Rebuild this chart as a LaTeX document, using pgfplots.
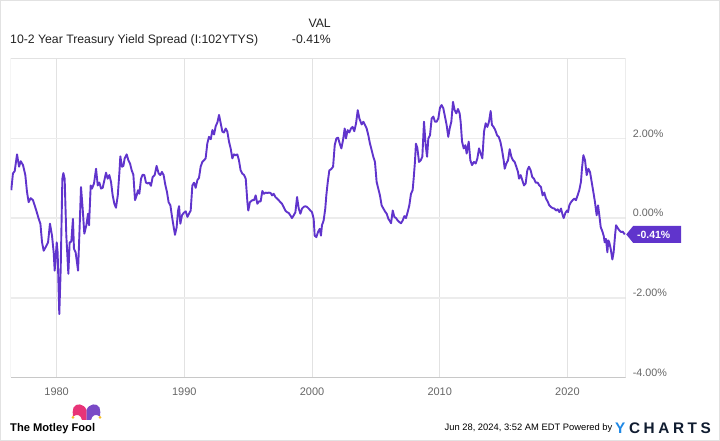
\documentclass[border=0pt]{standalone}
\usepackage{fontspec}
\setmainfont{Liberation Sans}
\usepackage{pgfplots}
\usepackage{pgfplotstable}
\pgfplotsset{compat=1.18}
\definecolor{ypurple}{RGB}{96,52,204}
\definecolor{gridv}{RGB}{226,226,226}
\definecolor{gridh}{RGB}{236,236,236}
\definecolor{ticktxt}{RGB}{102,102,102}
\definecolor{frameg}{RGB}{200,200,200}
\definecolor{hdrtxt}{RGB}{34,34,34}
\definecolor{ycblue}{RGB}{30,136,229}
\definecolor{ycdark}{RGB}{16,28,48}
\definecolor{foolpink}{RGB}{232,52,120}
\definecolor{foolpurple}{RGB}{122,74,198}
\definecolor{foolyellow}{RGB}{245,190,40}

\pgfplotstableread{
year val
1976.45 0.70
1976.58 1.12
1976.72 1.18
1976.90 1.60
1977.06 1.29
1977.19 1.43
1977.37 1.33
1977.55 1.08
1977.68 0.66
1977.81 0.40
1977.97 0.50
1978.15 0.45
1978.28 0.32
1978.41 0.19
1978.60 -0.02
1978.73 -0.14
1978.86 -0.61
1978.99 -0.82
1979.14 -0.73
1979.33 -0.61
1979.48 -0.14
1979.64 -0.44
1979.77 -0.86
1979.85 -1.32
1980.01 -0.61
1980.08 -0.86
1980.21 -2.41
1980.32 -1.28
1980.45 0.99
1980.53 1.13
1980.63 0.99
1980.76 -0.44
1980.92 -1.40
1981.02 -0.61
1981.15 -0.59
1981.28 -0.02
1981.36 -0.77
1981.49 -0.86
1981.68 -1.32
1981.78 -0.44
1981.91 0.78
1982.04 0.24
1982.17 -0.39
1982.33 -0.18
1982.46 0.11
1982.54 -0.18
1982.67 0.82
1982.77 0.74
1982.93 0.87
1983.09 1.24
1983.22 0.82
1983.35 0.89
1983.48 0.74
1983.61 0.76
1983.74 0.95
1983.87 1.14
1984.00 0.99
1984.13 1.08
1984.26 0.91
1984.39 0.57
1984.52 0.36
1984.65 0.26
1984.79 0.57
1984.92 1.16
1984.99 1.55
1985.12 1.29
1985.23 1.31
1985.33 1.50
1985.49 1.60
1985.62 1.45
1985.75 1.37
1985.88 1.20
1986.01 1.09
1986.14 0.45
1986.27 0.57
1986.37 0.70
1986.48 0.61
1986.61 0.99
1986.74 1.09
1986.87 1.08
1987.00 0.89
1987.13 0.87
1987.26 0.89
1987.39 0.81
1987.52 1.03
1987.68 1.08
1987.83 1.31
1987.99 1.12
1988.12 1.08
1988.25 1.16
1988.38 1.08
1988.51 0.84
1988.64 0.66
1988.77 0.40
1988.91 0.32
1989.04 0.03
1989.17 -0.23
1989.27 -0.42
1989.40 -0.23
1989.51 0.19
1989.59 0.30
1989.69 -0.14
1989.82 0.07
1989.95 0.13
1990.11 0.17
1990.24 0.03
1990.37 0.11
1990.50 0.19
1990.63 0.82
1990.76 0.89
1990.89 0.76
1991.02 0.95
1991.15 1.01
1991.28 1.29
1991.41 1.41
1991.54 1.45
1991.67 1.50
1991.80 1.87
1991.93 2.04
1992.07 1.98
1992.20 2.21
1992.33 2.10
1992.46 2.31
1992.59 2.40
1992.72 2.59
1992.85 2.38
1992.98 2.17
1993.11 2.15
1993.24 2.25
1993.37 2.17
1993.50 1.92
1993.63 1.75
1993.76 1.50
1993.89 1.60
1994.02 1.58
1994.15 1.60
1994.28 1.45
1994.41 1.20
1994.54 1.12
1994.68 1.08
1994.81 0.99
1994.94 0.40
1995.01 0.19
1995.14 0.40
1995.33 0.45
1995.46 0.45
1995.59 0.57
1995.72 0.36
1995.85 0.42
1995.98 0.42
1996.11 0.68
1996.24 0.61
1996.37 0.64
1996.50 0.63
1996.63 0.64
1996.76 0.63
1996.87 0.57
1997.00 0.61
1997.13 0.53
1997.26 0.49
1997.39 0.45
1997.52 0.40
1997.65 0.36
1997.78 0.28
1997.91 0.19
1998.04 0.15
1998.17 0.13
1998.30 0.07
1998.43 0.00
1998.57 0.07
1998.70 0.15
1998.83 0.53
1998.96 0.24
1999.09 0.11
1999.22 0.24
1999.35 0.28
1999.48 0.30
1999.61 0.28
1999.74 0.24
1999.87 0.19
2000.00 0.15
2000.13 -0.02
2000.21 -0.44
2000.34 -0.48
2000.47 -0.35
2000.60 -0.27
2000.70 -0.44
2000.78 -0.18
2000.91 -0.06
2001.04 0.24
2001.12 0.57
2001.25 0.95
2001.36 1.20
2001.51 1.23
2001.65 1.29
2001.78 1.83
2001.91 2.00
2002.04 2.02
2002.17 1.87
2002.30 1.75
2002.43 1.96
2002.56 2.25
2002.66 2.00
2002.79 2.21
2002.92 2.15
2003.05 2.25
2003.18 2.29
2003.31 2.18
2003.45 2.38
2003.58 2.71
2003.71 2.50
2003.89 2.35
2004.02 2.42
2004.15 2.34
2004.28 2.25
2004.41 2.08
2004.54 1.87
2004.67 1.71
2004.80 1.54
2004.93 1.41
2005.06 0.91
2005.19 0.74
2005.32 0.57
2005.45 0.32
2005.59 0.24
2005.71 0.17
2005.85 0.11
2005.98 -0.02
2006.11 -0.08
2006.19 -0.13
2006.32 0.19
2006.45 0.03
2006.58 0.00
2006.71 -0.06
2006.84 -0.10
2006.97 -0.13
2007.10 -0.06
2007.23 0.05
2007.36 0.00
2007.49 0.15
2007.62 0.32
2007.75 0.61
2007.88 0.70
2007.96 0.99
2008.06 1.41
2008.14 1.87
2008.25 1.76
2008.38 1.41
2008.51 1.45
2008.64 1.54
2008.77 2.42
2008.90 1.83
2009.01 1.54
2009.11 2.00
2009.24 2.08
2009.37 2.50
2009.50 2.55
2009.63 2.42
2009.76 2.42
2009.89 2.50
2010.02 2.77
2010.15 2.84
2010.28 2.76
2010.41 2.55
2010.54 2.34
2010.67 2.04
2010.78 2.25
2010.91 2.42
2011.04 2.92
2011.17 2.71
2011.30 2.63
2011.43 2.74
2011.56 2.63
2011.64 2.42
2011.75 1.92
2011.88 1.75
2012.01 1.83
2012.11 1.62
2012.27 1.92
2012.40 1.45
2012.53 1.33
2012.68 1.41
2012.82 1.37
2012.95 1.50
2013.08 1.75
2013.21 1.62
2013.34 1.50
2013.47 2.17
2013.60 2.38
2013.73 2.29
2013.86 2.42
2013.99 2.69
2014.09 2.34
2014.22 2.29
2014.35 2.21
2014.49 2.08
2014.62 2.04
2014.75 1.92
2014.88 1.71
2015.01 1.45
2015.09 1.24
2015.22 1.37
2015.35 1.45
2015.48 1.73
2015.61 1.54
2015.74 1.45
2015.87 1.41
2016.00 1.29
2016.13 1.16
2016.21 0.99
2016.34 1.08
2016.47 0.95
2016.60 0.82
2016.73 0.87
2016.86 1.20
2016.99 1.29
2017.12 1.20
2017.25 1.03
2017.38 0.99
2017.52 0.89
2017.67 0.89
2017.80 0.82
2017.93 0.78
2018.06 0.57
2018.19 0.64
2018.32 0.49
2018.45 0.42
2018.58 0.32
2018.71 0.28
2018.85 0.25
2018.98 0.24
2019.11 0.19
2019.24 0.22
2019.37 0.15
2019.50 0.24
2019.63 0.07
2019.71 0.00
2019.84 0.13
2019.97 0.19
2020.05 0.15
2020.15 0.32
2020.28 0.40
2020.41 0.45
2020.54 0.49
2020.67 0.45
2020.80 0.57
2020.93 0.70
2021.06 0.91
2021.14 1.24
2021.25 1.58
2021.38 1.45
2021.51 1.08
2021.64 1.24
2021.77 1.16
2021.90 0.91
2022.03 0.66
2022.16 0.40
2022.29 0.07
2022.40 0.32
2022.50 0.07
2022.61 -0.23
2022.71 -0.31
2022.84 -0.44
2022.92 -0.61
2023.02 -0.52
2023.13 -0.86
2023.20 -0.56
2023.28 -0.61
2023.39 -0.77
2023.52 -1.04
2023.62 -0.86
2023.73 -0.44
2023.81 -0.18
2023.94 -0.25
2024.07 -0.31
2024.20 -0.35
2024.33 -0.34
2024.49 -0.41
}\spread

\begin{document}
\begin{tikzpicture}
\useasboundingbox (0,0) rectangle (720bp,441bp);
\draw[gridv, line width=0.8bp] (0.4bp,0.4bp) rectangle (719.6bp,440.6bp);
\begin{axis}[
  at={(10.7bp,63.6bp)}, anchor=south west,
  scale only axis, width=615bp, height=319.4bp,
  xmin=1976.405, xmax=2024.565, ymin=-4, ymax=4.02,
  axis line style={draw=none},
  tick style={draw=none},
  major tick length=0pt,
  xtick={1980,1990,2000,2010,2020},
  xticklabels={1980,1990,2000,2010,2020},
  ytick={-4,-2,0,2},
  yticklabels={-4.00\%,-2.00\%,0.00\%,2.00\%},
  yticklabel pos=right,
  xmajorgrids, ymajorgrids,
  x grid style={gridv, line width=0.8bp},
  y grid style={gridh, line width=1.6bp},
  /pgf/number format/assume math mode=true,
  xticklabel style={anchor=base, inner sep=0pt, yshift=-18bp, font=\fontsize{11}{13}\selectfont, text=ticktxt},
  yticklabel style={anchor=base west, inner sep=0pt, xshift=7bp, yshift=1.3bp, font=\fontsize{10.8}{13}\selectfont, text=ticktxt},
]
\draw[gridv, line width=0.8bp] (rel axis cs:0,0) -- (rel axis cs:0,1) -- (rel axis cs:1,1) -- (rel axis cs:1,0);
\draw[frameg, line width=1.2bp] (rel axis cs:0,0) -- (rel axis cs:1,0);
\addplot[ypurple, line width=1.9bp, line join=round, mark=none] table[x=year, y=val]{\spread};
\coordinate (tag) at (axis cs:2024.565,-0.41);
\end{axis}
% value tag
\fill[ypurple] ([xshift=0.5bp]tag) -- ++(7bp,8.5bp) -- ++(48bp,0) -- ++(0,-17bp) -- ++(-48bp,0) -- cycle;
\node[anchor=base, inner sep=0pt, text=white, font=\bfseries\fontsize{10.5}{12}\selectfont] at ([xshift=28bp, yshift=-3.8bp]tag) {-0.41\%};
% header
\node[anchor=base west, inner sep=0pt, text=hdrtxt, font=\fontsize{12.3}{14}\selectfont] at (10bp,397.5bp) {10-2 Year Treasury Yield Spread (I:102YTYS)};
\node[anchor=base east, inner sep=0pt, text=hdrtxt, font=\fontsize{12.3}{14}\selectfont] at (331bp,413.5bp) {VAL};
\node[anchor=base east, inner sep=0pt, text=hdrtxt, font=\fontsize{12.3}{14}\selectfont] at (331bp,397.5bp) {-0.41\%};
% footer
\node[anchor=base west, inner sep=0pt, text=black, font=\bfseries\fontsize{11.2}{13}\selectfont] at (10bp,9.5bp) {The Motley Fool};
\begin{scope}[x=1bp,y=1bp]
\fill[foolpink] (86.5,21) -- (86.5,31) .. controls (84,37.5) and (76,38.5) .. (73.5,33.5) .. controls (72.5,30.5) and (72.5,27.5) .. (73,24.5) .. controls (77,27.5) and (81,26) .. (82,21) -- cycle;
\fill[foolpurple] (86.5,21) -- (86.5,31) .. controls (89,37.5) and (97,38.5) .. (99.5,33.5) .. controls (100.5,30.5) and (100.5,27.5) .. (100,24.5) .. controls (96,27.5) and (92,26) .. (91,21) -- cycle;
\fill[foolyellow] (73,23.6) circle (1.5);
\fill[foolyellow] (100,23.6) circle (1.5);
\end{scope}
\node[anchor=base east, inner sep=0pt, text=black, font=\fontsize{9.4}{11}\selectfont] at (612.5bp,10.5bp) {Jun 28, 2024, 3:52 AM EDT Powered by};
\node[anchor=base west, inner sep=0pt, font=\bfseries\fontsize{15.4}{17}\selectfont] at (615bp,8bp) {\textcolor{ycblue}{Y}\kern3.6bp\textcolor{ycdark}{C\kern3.6bp H\kern3.6bp A\kern3.6bp R\kern3.6bp T\kern3.6bp S}};
\end{tikzpicture}
\end{document}
